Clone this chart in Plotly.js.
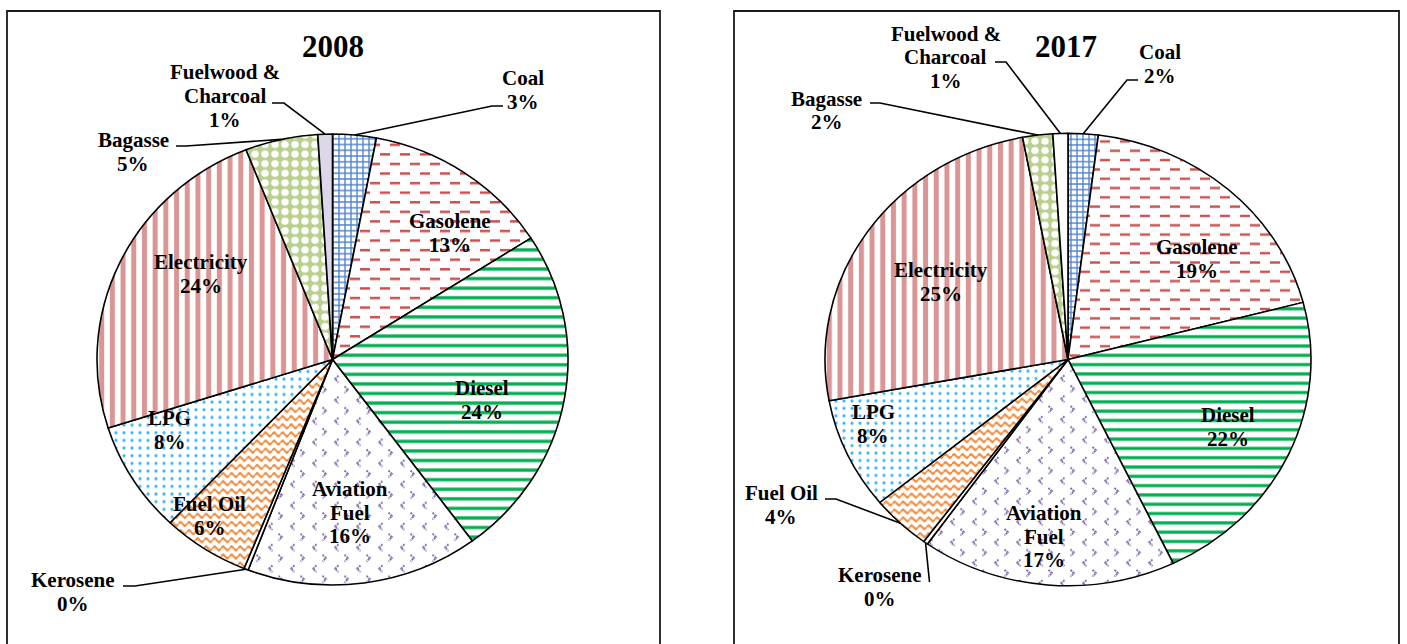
<!DOCTYPE html>
<html>
<head>
<meta charset="utf-8">
<script src="https://cdn.plot.ly/plotly-3.0.1.min.js"></script>
<style>
  html, body { margin: 0; padding: 0; background: #ffffff; }
  #chart { width: 1407px; height: 644px; }
</style>
</head>
<body>
<div id="chart"></div>
<script>
// Shares of final energy use by fuel, 2008 and 2017 (percent)
const categories = ['Coal', 'Gasolene', 'Diesel', 'Aviation Fuel', 'Kerosene',
                    'Fuel Oil', 'LPG', 'Electricity', 'Bagasse', 'Fuelwood & Charcoal'];
const shares2008 = [3, 13, 24, 16, 0.3, 6, 8, 24, 5, 1];
const shares2017 = [2, 19, 22, 17, 0.3, 4, 8, 25, 2, 1];
// How each category name is broken over lines in its label
const labelLines = [['Coal'], ['Gasolene'], ['Diesel'], ['Aviation', 'Fuel'], ['Kerosene'],
                    ['Fuel Oil'], ['LPG'], ['Electricity'], ['Bagasse'], ['Fuelwood &', 'Charcoal']];

const W = 1407, H = 644;
const FONT = 'Liberation Serif, Times New Roman, serif';
const px = x => x / W;
const py = y => 1 - y / H;

// Fill styles per category
const fg = ['#4f82cf', '#cf6d6a', '#00b050', '#8a74b0', '#ffffff',
            '#f08a3c', '#3cb8f0', '#d99694', '#ffffff', '#ffffff'];
const shapes = ['+', '-', '-', '.', '', '-', '.', '|', '.', ''];
const sizes = [6, 10, 10, 11, 8, 8, 8, 10.7, 10, 8];
const solid = [0.4, 0.2, 0.34, 0.12, 0.3, 0.3, 0.13, 0.47, 0.45, 0.3];
// Textures that the built-in pattern set lacks: dashes, waves, chevrons
const customTextures = {
  1: { id: 'tex-dash', w: 20, h: 20,
       svg: '<rect width="20" height="20" fill="#fff"/>' +
            '<rect x="0" y="4" width="10" height="2.6" fill="#c9514e"/>' +
            '<rect x="10" y="14" width="10" height="2.6" fill="#c9514e"/>' },
  3: { id: 'tex-chevron', w: 22, h: 22,
       svg: '<rect width="22" height="22" fill="#fff"/>' +
            '<path d="M8.5,2.5 L5,6 L8.5,9.5" fill="none" stroke="#7d69a8" stroke-width="1.9" stroke-dasharray="2 1"/>' +
            '<path d="M14.5,13.5 L18,17 L14.5,20.5" fill="none" stroke="#7d69a8" stroke-width="1.9" stroke-dasharray="2 1"/>' },
  5: { id: 'tex-wave', w: 8.5, h: 8.5,
       svg: '<rect width="8.5" height="8.5" fill="#fff"/>' +
            '<path d="M0,4.25 L2.125,1.9 L4.25,4.25 L6.375,6.6 L8.5,4.25" fill="none" stroke="#f08a3c" stroke-width="2" stroke-linejoin="round"/>' }
};

// Panel geometry: pie centre and radii in px, frame edges, label placement
const panels = [
  {
    year: '2008', values: shares2008,
    cx: 332.5, cy: 359.5, rx: 235.5, ry: 225.5, box: [7, 660], titleX: 332.5,
    bg: ['#ffffff', '#ffffff', '#ffffff', '#ffffff', '#ffffff', '#ffffff', '#ffffff', '#ffffff', '#b9d08f', '#dcd7e9'],
    labels: [
      { x: 523, y: 78, lead: [[503, 106], [492, 106]] },
      { x: 449.5, y: 221 },
      { x: 482, y: 388 },
      { x: 349.5, y: 489 },
      { x: 73, y: 580, lead: [[123, 586], [135, 586]] },
      { x: 210, y: 504 },
      { x: 169.5, y: 418 },
      { x: 201, y: 262.5 },
      { x: 133, y: 140, lead: [[176, 146], [186, 146]] },
      { x: 225, y: 72.5, lead: [[272, 103], [284, 103]] }
    ]
  },
  {
    year: '2017', values: shares2017,
    cx: 1068, cy: 359.5, rx: 243, ry: 226.2, box: [734, 1399], titleX: 1066,
    bg: ['#ffffff', '#ffffff', '#ffffff', '#ffffff', '#ffffff', '#ffffff', '#ffffff', '#ffffff', '#b9d08f', '#ffffff'],
    labels: [
      { x: 1159.5, y: 52, lead: [[1138, 80], [1127, 80]] },
      { x: 1197, y: 247 },
      { x: 1228, y: 415 },
      { x: 1043.5, y: 513 },
      { x: 880, y: 575, lead: [[929.5, 582]] },
      { x: 781, y: 493, lead: [[825, 499], [836, 499]] },
      { x: 873, y: 412 },
      { x: 941, y: 270 },
      { x: 826.5, y: 98.5, lead: [[870, 103], [880, 103]] },
      { x: 945.5, y: 33.5, lead: [[995, 62], [1006, 62]] }
    ]
  }
];

const LINE = 23.7;
const traces = [];
const annotations = [];
const layoutShapes = [];

panels.forEach(p => {
  const total = p.values.reduce((a, b) => a + b, 0);
  traces.push({
    type: 'pie',
    labels: categories,
    values: p.values,
    sort: false,
    direction: 'clockwise',
    rotation: 0,
    textinfo: 'none',
    hoverinfo: 'skip',
    showlegend: false,
    domain: {
      x: [px(p.cx - p.rx), px(p.cx + p.rx)],
      y: [py(p.cy + p.rx + 2), py(p.cy - p.rx - 2)]
    },
    marker: {
      colors: p.bg,
      line: { color: '#000000', width: 1.6 },
      pattern: {
        shape: shapes, fgcolor: fg, bgcolor: p.bg,
        size: sizes, solidity: solid, fillmode: 'replace'
      }
    }
  });

  // frame round each panel
  layoutShapes.push({
    type: 'rect', xref: 'paper', yref: 'paper',
    x0: px(p.box[0]), x1: px(p.box[1]), y0: py(H + 40), y1: py(11),
    line: { color: '#1a1a1a', width: 1.8 }, fillcolor: 'rgba(0,0,0,0)'
  });

  annotations.push({
    xref: 'paper', yref: 'paper', x: px(p.titleX), y: py(47),
    xanchor: 'center', yanchor: 'middle', showarrow: false,
    text: '<b>' + p.year + '</b>', font: { family: FONT, size: 31, color: '#000' }
  });

  let cum = 0;
  p.values.forEach((v, i) => {
    const mid = (cum + v / 2) / total;
    cum += v;
    const ang = 2 * Math.PI * mid;
    const lab = p.labels[i];
    const lines = labelLines[i].concat([Math.round(v / total * 100) + '%']);
    lines.forEach((t, j) => {
      annotations.push({
        xref: 'paper', yref: 'paper', x: px(lab.x), y: py(lab.y + j * LINE),
        xanchor: 'center', yanchor: 'middle', showarrow: false,
        text: '<b>' + t + '</b>', font: { family: FONT, size: 21, color: '#000' }
      });
    });
    if (lab.lead) {
      // leader from the label to the rim at the slice's middle angle
      const rimX = p.cx + p.rx * Math.sin(ang);
      const rimY = p.cy - p.ry * Math.cos(ang);
      const pts = lab.lead.concat([[rimX, rimY]]);
      const d = pts.map((q, k) => (k ? 'L' : 'M') + px(q[0]) + ',' + py(q[1])).join(' ');
      layoutShapes.push({
        type: 'path', xref: 'paper', yref: 'paper', path: d,
        line: { color: '#000000', width: 1.6 }
      });
    }
  });
});

const layout = {
  width: W, height: H,
  margin: { l: 0, r: 0, t: 0, b: 0 },
  paper_bgcolor: '#ffffff',
  plot_bgcolor: '#ffffff',
  showlegend: false,
  annotations: annotations,
  shapes: layoutShapes
};

function applyTextures(gd) {
  const ns = 'http://www.w3.org/2000/svg';
  const defs = gd.querySelector('svg.main-svg defs');
  if (!defs) return;
  Object.keys(customTextures).forEach(k => {
    const t = customTextures[k];
    const pat = document.createElementNS(ns, 'pattern');
    pat.setAttribute('id', t.id);
    pat.setAttribute('patternUnits', 'userSpaceOnUse');
    pat.setAttribute('width', t.w);
    pat.setAttribute('height', t.h);
    pat.innerHTML = t.svg;
    defs.appendChild(pat);
  });
  gd.querySelectorAll('.pielayer g.trace').forEach(g => {
    g.querySelectorAll('g.slice').forEach((s, j) => {
      const t = customTextures[j];
      const surf = s.querySelector('path.surface');
      if (t && surf) surf.style.fill = 'url(#' + t.id + ')';
    });
  });
}

Plotly.newPlot('chart', traces, layout, { staticPlot: true, displayModeBar: false }).then(gd => {
  applyTextures(gd);
  // Pies are drawn slightly flattened vertically
  gd.querySelectorAll('.pielayer g.trace').forEach((g, i) => {
    const p = panels[i];
    if (!p) return;
    const k = p.ry / p.rx;
    g.setAttribute('transform', 'matrix(1,0,0,' + k + ',0,' + (p.cy * (1 - k)) + ')');
  });
});
</script>
</body>
</html>
